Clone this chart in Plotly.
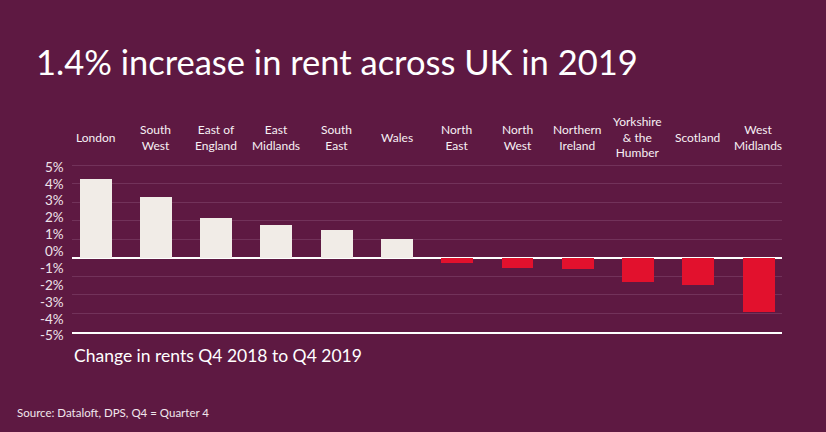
import plotly.graph_objects as go

regions = ["London", "South<br>West", "East of<br>England", "East<br>Midlands", "South<br>East", "Wales",
           "North<br>East", "North<br>West", "Northern<br>Ireland", "Yorkshire<br>& the<br>Humber",
           "Scotland", "West<br>Midlands"]
change = [4.25, 3.3, 2.15, 1.8, 1.55, 1.05, -0.25, -0.5, -0.6, -1.3, -1.45, -2.9]
grid_ticks = [5, 4, 3, 2, 1, 0, -1, -2, -3, -4]
label_ticks = [5, 4, 3, 2, 1, 0, -1, -2, -3, -4, -5]
label_text = [f"{v}%" for v in label_ticks]

BG = "#5e1942"
CREAM = "#f1ece7"
RED = "#e2112d"
FONT = "Lato"
W, H = 826, 432

colors = [CREAM if v >= 0 else RED for v in change]

fig = go.Figure()
fig.add_trace(go.Bar(x=regions, y=change, marker=dict(color=colors, line=dict(width=0)),
                     width=0.53, hoverinfo="skip", xaxis="x", yaxis="y"))
# invisible trace carrying the separate label axis
fig.add_trace(go.Scatter(x=[regions[0]], y=[0], xaxis="x", yaxis="y2", mode="markers",
                         marker=dict(opacity=0), hoverinfo="skip", showlegend=False))

for r in regions:
    fig.add_annotation(x=r, xref="x", y=1 - 137.5 / H, yref="paper", text=r, showarrow=False,
                       yanchor="middle", xanchor="center", align="center",
                       font=dict(family=FONT, size=12, color="#f7f0f4"))

fig.add_annotation(x=34 / W, y=1 - 62 / H, xref="paper", yref="paper", xanchor="left", yanchor="middle",
                   text="1.4% increase in rent across UK in 2019", showarrow=False,
                   font=dict(family=FONT, size=34.5, color="#ffffff"))
fig.add_annotation(x=72 / W, y=1 - 355 / H, xref="paper", yref="paper", xanchor="left", yanchor="middle",
                   text="Change in rents Q4 2018 to Q4 2019", showarrow=False,
                   font=dict(family=FONT, size=17.5, color="#ffffff"))
fig.add_annotation(x=15 / W, y=1 - 412 / H, xref="paper", yref="paper", xanchor="left", yanchor="middle",
                   text="Source: Dataloft, DPS, Q4 = Quarter 4", showarrow=False,
                   font=dict(family=FONT, size=11.5, color="#f0e6ec"))

unit = (332 - 165) / 9
zero_px = 165 + 5 * unit
plot_top, plot_bot = 159.5, 332
y_top = (zero_px - plot_top) / unit
y_bot = (zero_px - plot_bot) / unit

# label axis geometry
lunit = (335.7 - 167) / 10
lzero = 167 + 5 * lunit
l_top, l_bot = 158, 342
ly_top = (lzero - l_top) / lunit
ly_bot = (lzero - l_bot) / lunit

fig.update_layout(
    width=W, height=H,
    margin=dict(l=0, r=0, t=0, b=0),
    paper_bgcolor=BG, plot_bgcolor="rgba(0,0,0,0)",
    showlegend=False, bargap=0,
    xaxis=dict(domain=[71.7 / W, 782 / W], range=[-0.392, 11.394], showticklabels=False,
               showgrid=False, showline=True, linecolor="#ffffff", linewidth=1.5, ticks="",
               zeroline=False, fixedrange=True, anchor="y"),
    yaxis=dict(domain=[1 - plot_bot / H, 1 - plot_top / H], range=[y_bot, y_top],
               tickvals=grid_ticks, showticklabels=False, showgrid=True, gridcolor="#72325a",
               gridwidth=1, zeroline=True, zerolinecolor="#ffffff", zerolinewidth=1.5,
               showline=False, ticks="", fixedrange=True, anchor="x"),
    yaxis2=dict(domain=[1 - l_bot / H, 1 - l_top / H], range=[ly_bot, ly_top], anchor="free",
                position=71.7 / W, side="left", tickvals=label_ticks, ticktext=label_text,
                showgrid=False, zeroline=False, showline=False, ticks="", ticklabelstandoff=8,
                tickfont=dict(family=FONT, size=13.5, color="#eee3ea"), fixedrange=True),
)

fig.write_html("out.html", config={"displayModeBar": False},
               post_script="document.body.style.margin='0';")
